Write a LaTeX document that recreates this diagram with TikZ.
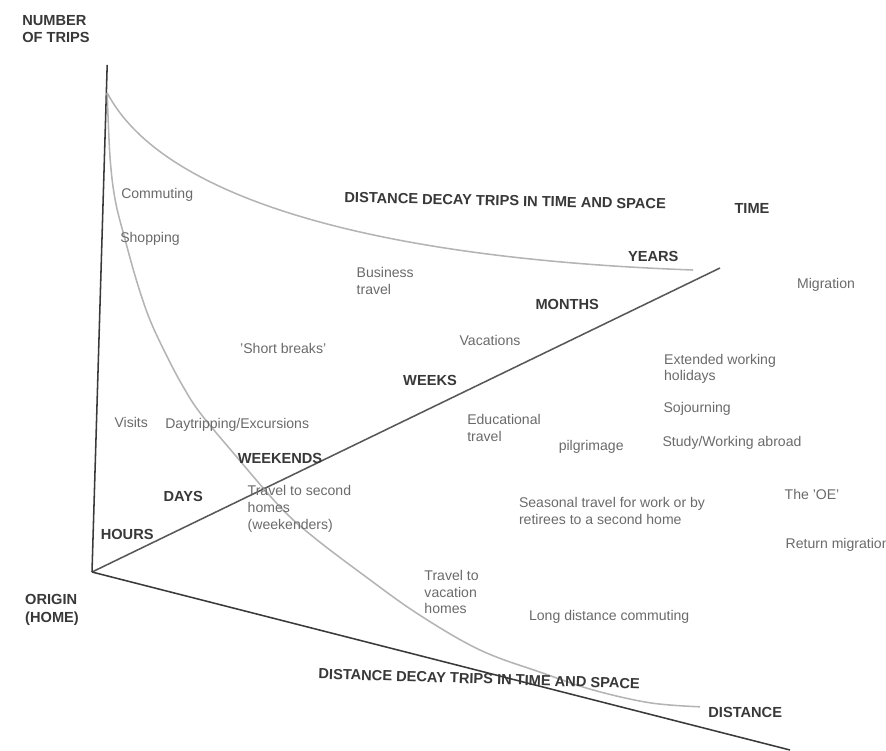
\documentclass[tikz,border=0pt]{standalone}
\usepackage{fontspec}
\setmainfont{Liberation Sans}
\usepackage{xcolor}
\definecolor{axisgray}{HTML}{3A3A3A}
\definecolor{curvegray}{HTML}{B4B4B4}
\definecolor{textgray}{HTML}{6A6A6A}
\definecolor{labelgray}{HTML}{383838}

\begin{document}
\begin{tikzpicture}[
    axis/.style={draw=axisgray,line width=1.1pt},
    decay/.style={draw=curvegray,line width=1.1pt},
    trip/.style={text=textgray,font=\fontsize{10}{12}\selectfont,align=left,inner sep=1pt},
    scalelabel/.style={text=labelgray,font=\fontsize{10.4}{12.4}\selectfont\bfseries,align=left,inner sep=1pt}
]
        \useasboundingbox (0,0) rectangle (22.15,18.75);
        % Axes
        \coordinate (origin) at (2.3,4.45);
        \coordinate (tripsend) at (2.68,17.13);
        \coordinate (timeend) at (18.0,12.05);
        \coordinate (distend) at (19.75,0);
        \draw [axis] (origin) -- (tripsend);
        \draw [axis,draw=axisgray!85] (origin) -- (timeend);
        \draw [axis] (origin) -- (distend);
        % Decay curves (time and distance)
        \coordinate (decaystart) at (2.68,16.43);
        \coordinate (yearsend) at (17.33,12.0);
        \coordinate (distanceend) at (17.5,1.08);
        \draw [decay] (decaystart) .. controls (4.0,13.9) and (9,12.3) .. (yearsend);
        \draw [decay] plot [smooth,tension=0.6] coordinates {(decaystart) (2.75,14.83) (2.88,13.75) (3.13,12.75) (3.43,11.68) (3.75,10.75) (4.18,9.83) (4.58,9.08) (5.0,8.43) (5.83,7.43) (7.0,6.08) (7.83,5.33) (9.08,4.38) (10.45,3.4) (12.0,2.5) (13.55,1.93) (14.83,1.5) (16.25,1.18) (distanceend)};
        % Axis and scale labels
        \node [scalelabel] (trips) at (1.4,18.03) {NUMBER\\OF TRIPS};
        \node [scalelabel] (origintext) at (1.3,3.5) {ORIGIN\\(HOME)};
        \node [scalelabel] (timetext) at (18.8,13.55) {TIME};
        \node [scalelabel] (distancetext) at (18.63,0.95) {DISTANCE};
        \node [scalelabel,rotate=-1.2] (toptitle) at (12.63,13.73) {DISTANCE DECAY TRIPS IN TIME AND SPACE};
        \node [scalelabel,rotate=-1.8] (bottomtitle) at (11.98,1.78) {DISTANCE DECAY TRIPS IN TIME AND SPACE};
        \node [scalelabel] (years) at (16.33,12.35) {YEARS};
        \node [scalelabel] (months) at (14.18,11.15) {MONTHS};
        \node [scalelabel] (weeks) at (10.75,9.25) {WEEKS};
        \node [scalelabel] (weekends) at (7.0,7.3) {WEEKENDS};
        \node [scalelabel] (days) at (4.58,6.35) {DAYS};
        \node [scalelabel] (hours) at (3.18,5.38) {HOURS};
        % Kinds of trips
        \node [trip] (commuting) at (3.93,13.88) {Commuting};
        \node [trip] (shopping) at (3.75,12.78) {Shopping};
        \node [trip] (business) at (9.63,11.73) {Business\\travel};
        \node [trip] (migration) at (20.65,11.63) {Migration};
        \node [trip] (shortbreaks) at (7.08,10.05) {'Short breaks'};
        \node [trip] (vacations) at (12.25,10.25) {Vacations};
        \node [trip] (extended) at (18.0,9.53) {Extended working\\holidays};
        \node [trip] (sojourning) at (17.43,8.53) {Sojourning};
        \node [trip] (visits) at (3.28,8.2) {Visits};
        \node [trip] (daytripping) at (5.93,8.13) {Daytripping/Excursions};
        \node [trip] (educational) at (12.6,8.05) {Educational\\travel};
        \node [trip] (pilgrimage) at (14.78,7.58) {pilgrimage};
        \node [trip] (abroad) at (18.3,7.68) {Study/Working abroad};
        \node [trip,anchor=west] (secondhomes) at (6.15,6.03) {Travel to second\\homes\\(weekenders)};
        \node [trip] (seasonal) at (15.3,5.98) {Seasonal travel for work or by\\retirees to a second home};
        \node [trip] (oe) at (20.3,6.4) {The 'OE'};
        \node [trip,anchor=west] (returnmig) at (19.6,5.13) {Return migration};
        \node [trip,anchor=west] (vachomes) at (10.57,3.95) {Travel to\\vacation\\homes};
        \node [trip] (longdist) at (15.23,3.33) {Long distance commuting};
    \end{tikzpicture}
\end{document}
